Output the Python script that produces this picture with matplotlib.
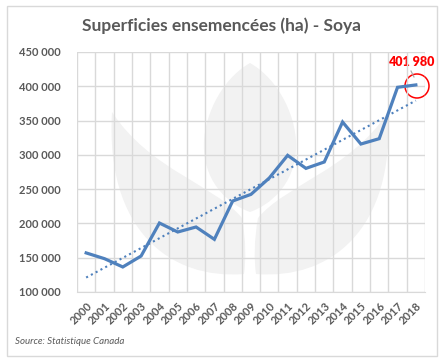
import matplotlib
matplotlib.use('Agg')
import matplotlib.pyplot as plt
import numpy as np
from matplotlib.path import Path
from matplotlib.patches import PathPatch, Rectangle, Circle

annees = [str(a) for a in range(2000, 2019)]
superficies = [157000, 148600, 136500, 152500, 200600, 187500, 194800, 176800,
               232700, 242400, 266300, 299300, 280300, 289600, 347900, 315800,
               323600, 398500, 401980]
yticks = [100000, 150000, 200000, 250000, 300000, 350000, 400000, 450000]

bleu = '#4f81bd'
gris_txt = '#595959'
gris_grille = '#d9d9d9'
filigrane = '#f2f2f2'

plt.rcParams['font.family'] = ['Lato', 'DejaVu Sans']

fig = plt.figure(figsize=(4.43, 3.64), dpi=100)

# fond en pixels pour le cadre et le filigrane
fond = fig.add_axes([0, 0, 1, 1], zorder=0)
fond.set_xlim(0, 443)
fond.set_ylim(364, 0)
fond.axis('off')
fond.add_patch(Rectangle((7, 6), 430, 350, fill=False, edgecolor=gris_grille, linewidth=1))

def feuille(pts):
    codes = [Path.MOVETO] + [Path.CURVE4] * (len(pts) - 2) + [Path.CLOSEPOLY]
    return PathPatch(Path(pts, codes), facecolor=filigrane, edgecolor='none')

centre = [(250, 63), (280, 80), (298, 120), (296, 150), (294, 185), (270, 205), (250, 212),
          (230, 205), (206, 185), (204, 150), (202, 120), (220, 80), (250, 63), (250, 63)]
gauche = [(112, 112), (150, 170), (215, 185), (242, 218), (246, 240), (246, 260), (244, 274),
          (170, 280), (105, 230), (112, 112), (112, 112)]
droite = [(500 - px, py) for px, py in gauche]
for f in (centre, gauche, droite):
    fond.add_patch(feuille(f))

ax = fig.add_axes([77 / 443, 1 - 292 / 364, 348 / 443, 240 / 364], zorder=1)
ax.patch.set_alpha(0)

x = np.arange(len(annees))
ax.plot(x, superficies, color=bleu, linewidth=2.3, solid_joinstyle='miter', zorder=3)

# courbe de tendance linéaire
a, b = np.polyfit(x, superficies, 1)
ax.plot(x, a * x + b, color=bleu, linewidth=1.5, linestyle=(0, (1, 1.6)), zorder=3)

ax.set_xlim(-0.5, len(annees) - 0.5)
ax.set_ylim(100000, 450000)
ax.set_yticks(yticks)
ax.set_yticklabels([f'{v:,}'.replace(',', ' ') for v in yticks])
ax.set_xticks(x)
ax.set_xticklabels(annees, rotation=45, ha='right', rotation_mode='anchor')
ax.set_xticks(np.arange(-0.5, len(annees)), minor=True)
ax.tick_params(axis='both', which='both', length=0, colors=gris_txt, labelsize=8)
ax.tick_params(axis='y', pad=12)
ax.tick_params(axis='x', pad=6)
for lab in ax.get_xticklabels() + ax.get_yticklabels():
    lab.set_fontweight('bold')
ax.grid(True, axis='y', which='major', color=gris_grille, linewidth=1)
ax.grid(True, axis='x', which='minor', color=gris_grille, linewidth=1)
ax.set_axisbelow(True)
for s in ax.spines.values():
    s.set_visible(False)
ax.spines['bottom'].set_visible(True)
ax.spines['bottom'].set_color(gris_grille)

# mise en évidence de la dernière valeur
dern = len(annees) - 1
fond.add_patch(Circle((417, 86), 12, fill=False, edgecolor='#ff0000', linewidth=1.1, zorder=5))
fond.plot([411, 414], [71, 77], color='#a6a6a6', linewidth=0.8, zorder=5)
fond.text(411, 62, f'{superficies[dern]:,}'.replace(',', ' '), color='#ff0000',
          fontsize=9, fontweight='heavy', ha='center', va='center', zorder=6)

fig.text(221 / 443, 1 - 26 / 364, 'Superficies ensemencées (ha) - Soya', ha='center', va='center',
         fontsize=12.5, fontweight='bold', color=gris_txt)
fig.text(15 / 443, 1 - 341 / 364, 'Source: Statistique Canada', ha='left', va='center',
         fontsize=7, style='italic', color=gris_txt)

fig.savefig('out.png', dpi=100)
